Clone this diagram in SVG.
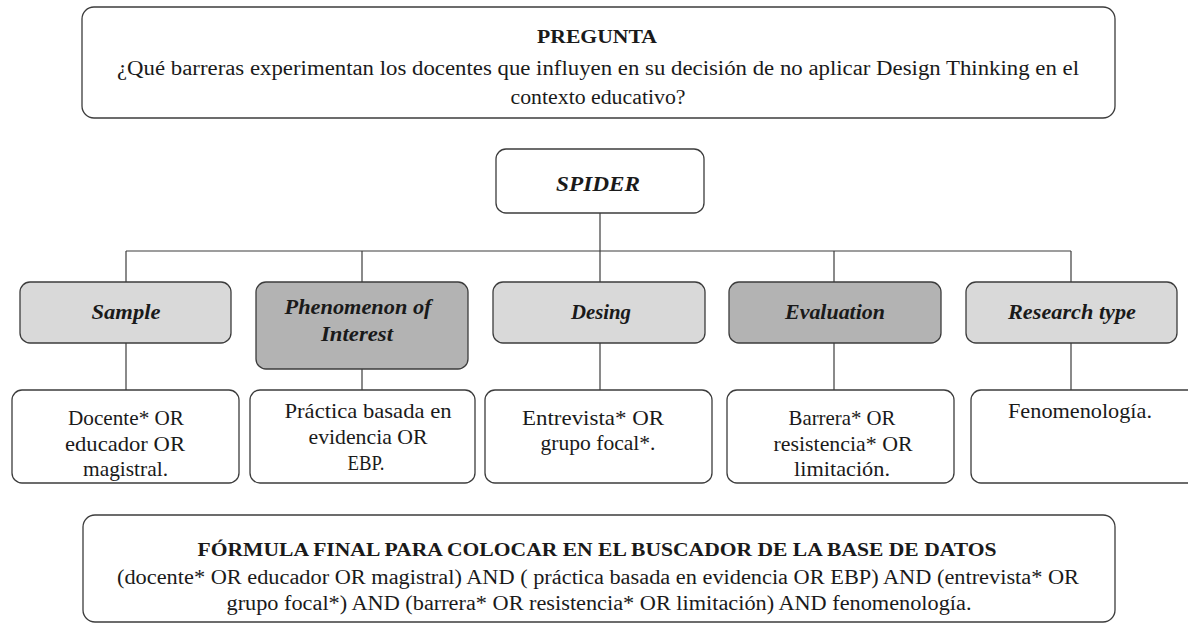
<svg xmlns="http://www.w3.org/2000/svg" width="1188" height="624" viewBox="0 0 1188 624">
<style>
.box{stroke:#3c3c3c;stroke-width:1.3;}
.w{fill:#ffffff;}
.l{fill:#d9d9d9;}
.d{fill:#b3b3b3;}
.t{font-family:"Liberation Serif","Times New Roman",serif;fill:#1a1a1a;text-anchor:middle;}
.h{font-weight:bold;font-size:18px;}
.b{font-size:20px;}
.r{font-size:21px;}
.k{font-weight:bold;font-style:italic;font-size:22px;}
.c{stroke:#3c3c3c;stroke-width:1.2;fill:none;}
</style>
<rect width="1188" height="624" fill="#ffffff"/>
<g id="connectors">
<line class="c" x1="600" y1="213" x2="600" y2="282"/>
<line class="c" x1="126" y1="251" x2="1071" y2="251"/>
<line class="c" x1="126" y1="251" x2="126" y2="282"/>
<line class="c" x1="362" y1="251" x2="362" y2="282"/>
<line class="c" x1="834" y1="251" x2="834" y2="282"/>
<line class="c" x1="1071" y1="251" x2="1071" y2="282"/>
<line class="c" x1="126" y1="343" x2="126" y2="390"/>
<line class="c" x1="362" y1="369" x2="362" y2="390"/>
<line class="c" x1="600" y1="343" x2="600" y2="390"/>
<line class="c" x1="834" y1="343" x2="834" y2="390"/>
<line class="c" x1="1071" y1="343" x2="1071" y2="390"/>
</g>
<g id="pregunta">
<rect class="box w" x="82" y="7" width="1033" height="111" rx="12"/>
<text class="t h" x="597" y="43" textLength="120" lengthAdjust="spacingAndGlyphs">PREGUNTA</text>
<text class="t b" x="598" y="75" textLength="962" lengthAdjust="spacingAndGlyphs">¿Qué barreras experimentan los docentes que influyen en su decisión de no aplicar Design Thinking en el</text>
<text class="t b" x="598" y="104" textLength="175" lengthAdjust="spacingAndGlyphs">contexto educativo?</text>
</g>
<g id="spider">
<rect class="box w" x="496" y="149" width="208" height="64" rx="10"/>
<text class="t k" x="598" y="191" font-size="25" textLength="84" lengthAdjust="spacingAndGlyphs">SPIDER</text>
</g>
<g id="sample">
<rect class="box l" x="20" y="282" width="211" height="61" rx="10"/>
<text class="t k" x="126" y="319" textLength="69" lengthAdjust="spacingAndGlyphs">Sample</text>
</g>
<g id="phenomenon">
<rect class="box d" x="256" y="282" width="212" height="87" rx="10"/>
<text class="t k" x="358" y="314" textLength="147" lengthAdjust="spacingAndGlyphs">Phenomenon of</text>
<text class="t k" x="357" y="341" textLength="72" lengthAdjust="spacingAndGlyphs">Interest</text>
</g>
<g id="desing">
<rect class="box l" x="493" y="282" width="212" height="61" rx="10"/>
<text class="t k" x="601" y="319" textLength="60" lengthAdjust="spacingAndGlyphs">Desing</text>
</g>
<g id="evaluation">
<rect class="box d" x="729" y="282" width="212" height="61" rx="10"/>
<text class="t k" x="835" y="319" textLength="100" lengthAdjust="spacingAndGlyphs">Evaluation</text>
</g>
<g id="research">
<rect class="box l" x="966" y="282" width="211" height="61" rx="10"/>
<text class="t k" x="1072" y="319" textLength="128" lengthAdjust="spacingAndGlyphs">Research type</text>
</g>
<g id="s-terms">
<rect class="box w" x="12" y="390" width="227" height="93" rx="10"/>
<text class="t r" x="126" y="425" textLength="116" lengthAdjust="spacingAndGlyphs">Docente* OR</text>
<text class="t r" x="125" y="451" textLength="120" lengthAdjust="spacingAndGlyphs">educador OR</text>
<text class="t r" x="125.5" y="476" textLength="85" lengthAdjust="spacingAndGlyphs">magistral.</text>
</g>
<g id="pi-terms">
<rect class="box w" x="250" y="390" width="225" height="93" rx="10"/>
<text class="t r" x="368" y="418" textLength="167" lengthAdjust="spacingAndGlyphs">Práctica basada en</text>
<text class="t r" x="368" y="444" textLength="119" lengthAdjust="spacingAndGlyphs">evidencia OR</text>
<text class="t r" x="366" y="470" textLength="37" lengthAdjust="spacingAndGlyphs">EBP.</text>
</g>
<g id="d-terms">
<rect class="box w" x="485" y="390" width="227" height="93" rx="10"/>
<text class="t r" x="593" y="425" textLength="142" lengthAdjust="spacingAndGlyphs">Entrevista* OR</text>
<text class="t r" x="598" y="450" textLength="115" lengthAdjust="spacingAndGlyphs">grupo focal*.</text>
</g>
<g id="e-terms">
<rect class="box w" x="727" y="390" width="227" height="93" rx="10"/>
<text class="t r" x="842" y="425" textLength="107" lengthAdjust="spacingAndGlyphs">Barrera* OR</text>
<text class="t r" x="843" y="451" textLength="139" lengthAdjust="spacingAndGlyphs">resistencia* OR</text>
<text class="t r" x="842" y="476" textLength="96" lengthAdjust="spacingAndGlyphs">limitación.</text>
</g>
<g id="r-terms">
<rect class="box w" x="971" y="390" width="230" height="93" rx="10"/>
<text class="t r" x="1080" y="418" textLength="144" lengthAdjust="spacingAndGlyphs">Fenomenología.</text>
</g>
<g id="formula">
<rect class="box w" x="83" y="515" width="1032" height="107" rx="12"/>
<text class="t h" x="597" y="556" textLength="799" lengthAdjust="spacingAndGlyphs">FÓRMULA FINAL PARA COLOCAR EN EL BUSCADOR DE LA BASE DE DATOS</text>
<text class="t b" x="598" y="584" textLength="962" lengthAdjust="spacingAndGlyphs">(docente* OR educador OR magistral) AND ( práctica basada en evidencia OR EBP) AND (entrevista* OR</text>
<text class="t b" x="599" y="610" textLength="745" lengthAdjust="spacingAndGlyphs">grupo focal*) AND (barrera* OR resistencia* OR limitación) AND fenomenología.</text>
</g>
</svg>
